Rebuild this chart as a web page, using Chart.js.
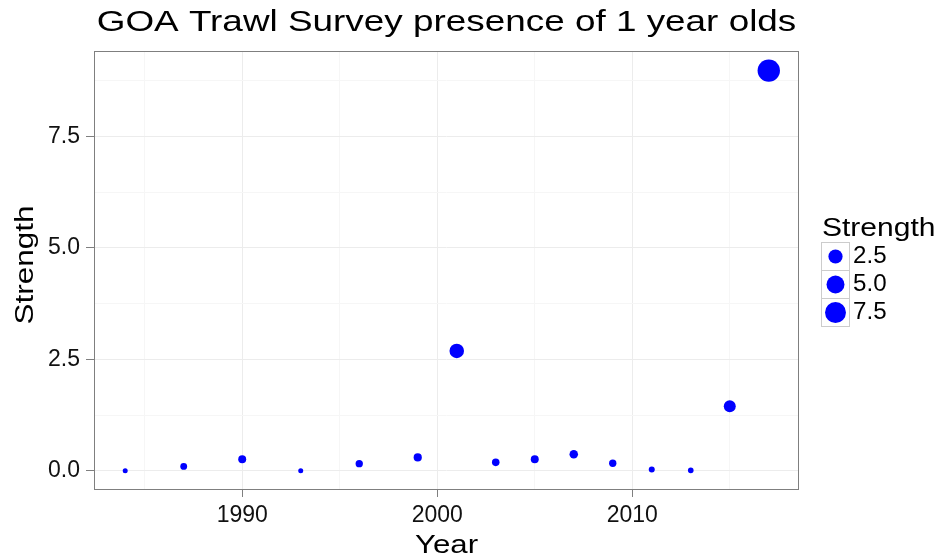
<!DOCTYPE html>
<html>
<head>
<meta charset="utf-8">
<script src="https://cdn.jsdelivr.net/npm/chart.js@4.4.0/dist/chart.umd.min.js"></script>
<style>
  body { margin: 0; background: #fff; }
  #wrap { width: 941px; height: 559px; position: relative; }
</style>
</head>
<body>
<div id="wrap"><canvas id="goaChart"></canvas></div>
<script>
// GOA trawl survey, 1 year olds
const years    = [1984, 1987, 1990, 1993, 1996, 1999, 2001, 2003, 2005, 2007, 2009, 2011, 2013, 2015, 2017];
const strength = [0.0, 0.10, 0.26, 0.0, 0.16, 0.30, 2.69, 0.19, 0.26, 0.37, 0.17, 0.03, 0.01, 1.45, 8.98];

const xMajor = [1990, 2000, 2010];
const xMinor = [1985, 1995, 2005, 2015];
const yMajor = [0, 2.5, 5, 7.5];
const yMinor = [1.25, 3.75, 6.25, 8.75];
const legendBreaks = [2.5, 5.0, 7.5];

const titleText = 'GOA Trawl Survey presence of 1 year olds';
const FONT = '"Liberation Sans", Arial, sans-serif';

const sMin = Math.min(...strength);
const sMax = Math.max(...strength);
// ggplot style area scale: radius grows with sqrt of rescaled value
const sizeFor = (v) => {
    const t = Math.max(0, (v - sMin) / (sMax - sMin));
    return 2.5 + 8.7 * Math.sqrt(t);
};

const points = years.map((y, i) => ({x: y, y: strength[i]}));

const isIn = (arr, v) => arr.some(a => Math.abs(a - v) < 1e-6);

// the reference text is a bit wider than plain Arial, so stretch it sideways
const wideText = (ctx, text, x, y, sx, rot) => {
    ctx.save();
    ctx.translate(x, y);
    if (rot) ctx.rotate(rot);
    ctx.scale(sx, 1);
    ctx.fillText(text, 0, 0);
    ctx.restore();
};

const extras = {
    id: 'extras',
    beforeDatasetsDraw(chart) {
        const {ctx, chartArea: a} = chart;
        ctx.save();
        ctx.strokeStyle = '#7f7f7f';
        ctx.lineWidth = 1;
        ctx.strokeRect(a.left + 0.5, a.top + 0.5, a.right - a.left - 1, a.bottom - a.top - 1);
        ctx.restore();
    },
    afterDraw(chart) {
        const {ctx, chartArea: a} = chart;
        const cx = (a.left + a.right) / 2;
        ctx.save();
        ctx.fillStyle = '#000';
        ctx.textBaseline = 'alphabetic';
        // title
        ctx.font = '29.5px ' + FONT;
        ctx.textAlign = 'center';
        wideText(ctx, titleText, cx, 31, 1.25);
        // axis titles
        ctx.font = '26px ' + FONT;
        wideText(ctx, 'Year', cx, 553, 1.2);
        wideText(ctx, 'Strength', 33, 265, 1.21, -Math.PI / 2);

        // size legend
        const lx = 821, ly = 242, key = 28;
        ctx.textAlign = 'left';
        ctx.font = '25px ' + FONT;
        wideText(ctx, 'Strength', lx + 1, 236, 1.2);
        ctx.font = '23px ' + FONT;
        ctx.textBaseline = 'middle';
        legendBreaks.forEach((b, i) => {
            const top = ly + i * key;
            ctx.fillStyle = '#fff';
            ctx.fillRect(lx, top, key, key);
            ctx.strokeStyle = '#cccccc';
            ctx.lineWidth = 1;
            ctx.strokeRect(lx + 0.5, top + 0.5, key, key);
            ctx.fillStyle = '#0000ff';
            ctx.beginPath();
            ctx.arc(lx + key / 2 + 0.5, top + key / 2 + 0.5, sizeFor(b), 0, Math.PI * 2);
            ctx.fill();
            ctx.fillStyle = '#000';
            wideText(ctx, b.toFixed(1), lx + key + 4, top + key / 2 + 1, 1.05);
        });
        ctx.restore();
    }
};

const ctx = document.getElementById('goaChart').getContext('2d');

const config = {
    type: 'scatter',
    data: {
        datasets: [{
            label: 'Strength',
            data: points,
            backgroundColor: '#0000ff',
            borderWidth: 0,
            pointRadius: (c) => sizeFor(c.raw ? c.raw.y : 0),
            pointHoverRadius: (c) => sizeFor(c.raw ? c.raw.y : 0)
        }]
    },
    options: {
        responsive: true,
        maintainAspectRatio: false,
        animation: false,
        layout: { padding: { top: 51, right: 142, left: 0, bottom: 0 } },
        plugins: {
            legend: { display: false },
            title: { display: false },
            tooltip: { enabled: false }
        },
        scales: {
            x: {
                type: 'linear',
                min: 1982.4,
                max: 2018.55,
                afterFit: (axis) => { axis.height = 69; },
                afterBuildTicks: (axis) => {
                    axis.ticks = [...xMinor, ...xMajor].sort((p, q) => p - q).map(v => ({value: v}));
                },
                border: { display: false },
                grid: {
                    color: (c) => isIn(xMajor, c.tick.value) ? '#ececec' : '#f6f6f6',
                    tickColor: (c) => isIn(xMajor, c.tick.value) ? '#7f7f7f' : 'rgba(0,0,0,0)',
                    tickLength: 7,
                    lineWidth: 1
                },
                ticks: {
                    autoSkip: false,
                    maxRotation: 0,
                    padding: 5,
                    color: '#111',
                    font: { family: FONT, size: 23 },
                    callback: (v) => isIn(xMajor, v) ? String(v) : ''
                }
            },
            y: {
                type: 'linear',
                min: -0.43,
                max: 9.42,
                afterFit: (axis) => { axis.width = 94; },
                afterBuildTicks: (axis) => {
                    axis.ticks = [...yMinor, ...yMajor].sort((p, q) => p - q).map(v => ({value: v}));
                },
                border: { display: false },
                grid: {
                    color: (c) => isIn(yMajor, c.tick.value) ? '#ececec' : '#f6f6f6',
                    tickColor: (c) => isIn(yMajor, c.tick.value) ? '#7f7f7f' : 'rgba(0,0,0,0)',
                    tickLength: 8,
                    lineWidth: 1
                },
                ticks: {
                    autoSkip: false,
                    padding: 6,
                    color: '#111',
                    font: { family: FONT, size: 23 },
                    callback: (v) => isIn(yMajor, v) ? v.toFixed(1) : ''
                }
            }
        }
    },
    plugins: [extras]
};

const goaChart = new Chart(ctx, config);
</script>
</body>
</html>
